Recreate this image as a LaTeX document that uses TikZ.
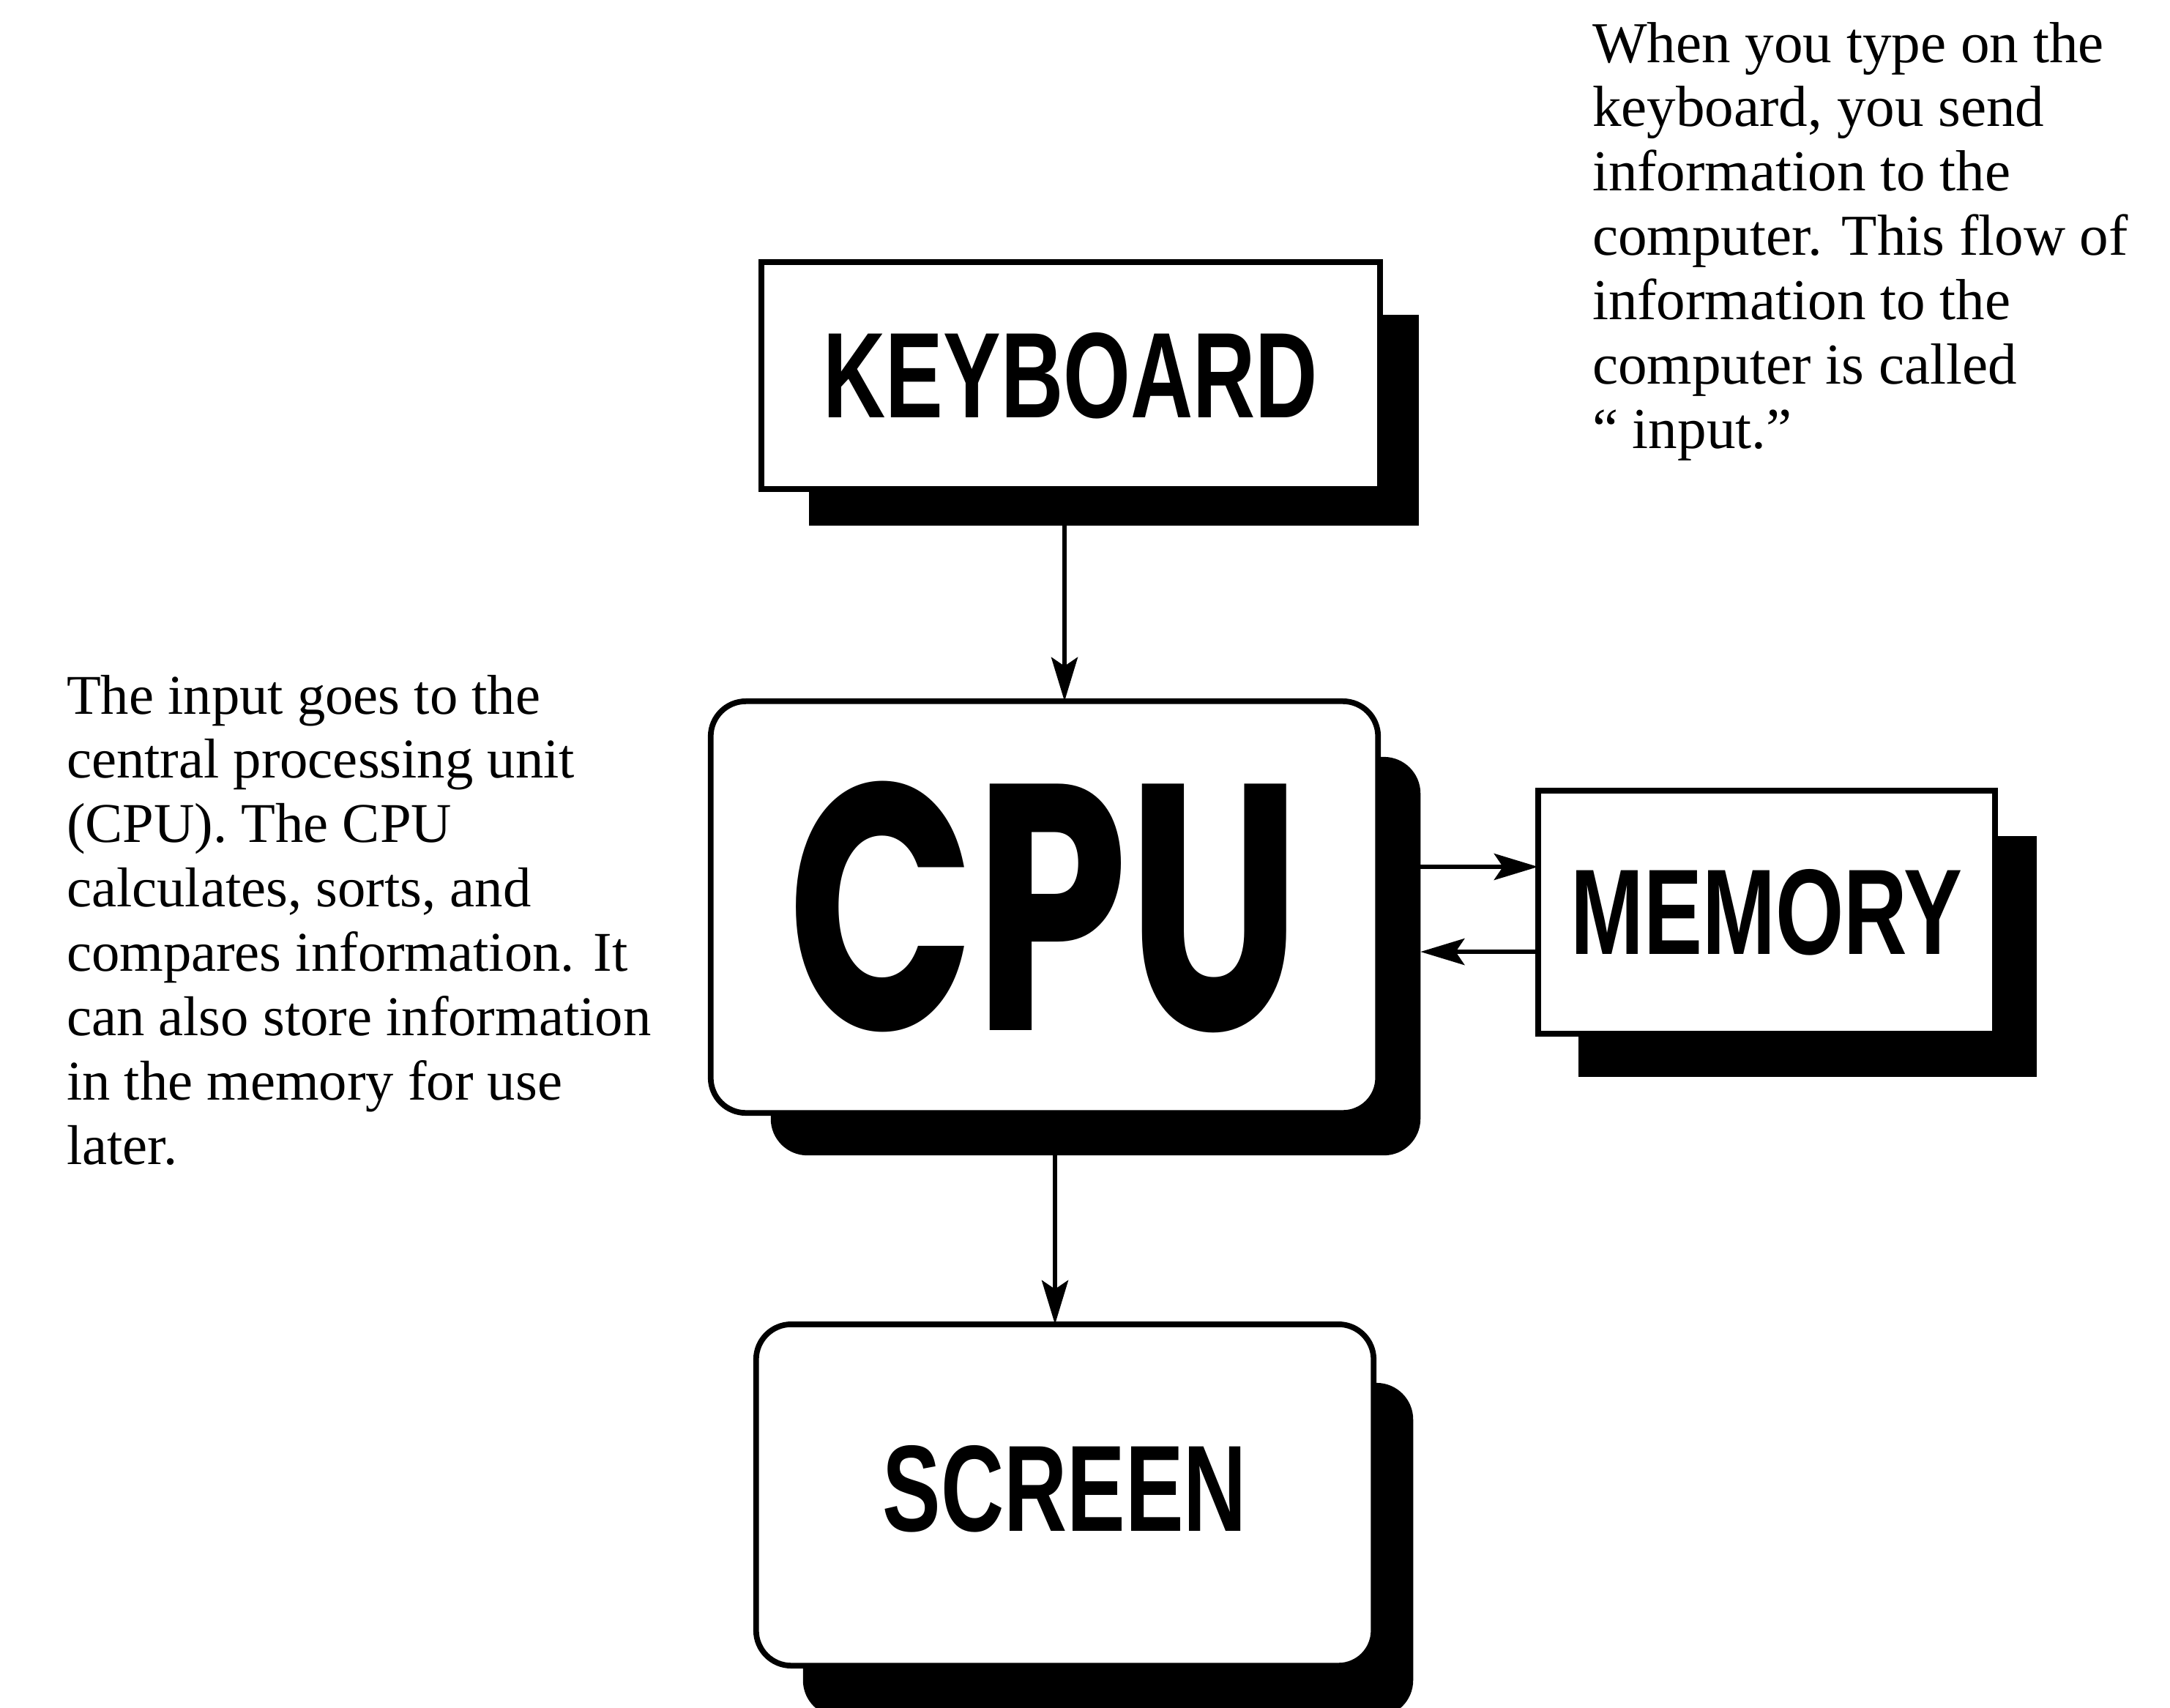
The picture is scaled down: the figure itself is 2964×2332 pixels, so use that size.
\documentclass[tikz,border=0pt]{standalone}
\usepackage{fontspec}
\usepackage{graphicx}
\setmainfont{Liberation Serif}
\newfontfamily\labelfont{Liberation Sans}
\newfontfamily\cpufont{Poppins}
\usetikzlibrary{arrows.meta}
\pgfdeclarelayer{background}
\pgfsetlayers{background,main}

\tikzset{
  panel/.style={draw=black, line width=2.2pt, fill=white, inner sep=0pt, outer sep=0pt},
  roundpanel/.style={panel, rounded corners=0.48cm},
  shade/.style={fill=black, draw=none, inner sep=0pt, outer sep=0pt},
  roundshade/.style={shade, rounded corners=0.5cm},
  flow/.style={line width=1.7pt, -{Stealth[length=0.6cm,width=0.36cm,inset=0.12cm]}},
  note/.style={anchor=base west, inner sep=0pt, outer sep=0pt},
}

\begin{document}
\begin{tikzpicture}[x=0.01cm, y=-0.01cm]
  \useasboundingbox (0,0) rectangle (2964,2332);

  % blocks of the machine
  \node[panel, minimum width=8.45cm, minimum height=3.10cm] (kb) at (1462.5,513)
    {\resizebox{6.75cm}{1.16cm}{\labelfont\bfseries KEYBOARD}};
  \node[roundpanel, minimum width=9.11cm, minimum height=5.62cm] (cpu) at (1426.5,1239)
    {\resizebox{7.0cm}{3.4cm}{\cpufont\bfseries CPU}};
  \node[panel, minimum width=6.24cm, minimum height=3.32cm] (mem) at (2413,1246)
    {\resizebox{5.35cm}{1.16cm}{\labelfont\bfseries MEMORY}};
  \node[roundpanel, minimum width=8.43cm, minimum height=4.66cm] (scr) at (1454.5,2042)
    {\raisebox{0.09cm}[1.17cm][0pt]{\resizebox{4.97cm}{1.17cm}{\labelfont\bfseries SCREEN}}};

  % solid drop shadows behind the blocks
  \begin{pgfonlayer}{background}
    \node[shade, minimum width=8.33cm, minimum height=2.88cm] (kbsh) at (1521.5,574) {};
    \node[roundshade, minimum width=8.87cm, minimum height=5.44cm] (cpush) at (1496.5,1306) {};
    \node[shade, minimum width=6.26cm, minimum height=3.29cm] (memsh) at (2469,1306.5) {};
    \node[roundshade, minimum width=8.33cm, minimum height=4.56cm] (scrsh) at (1513.5,2117) {};
  \end{pgfonlayer}

  % flow of information
  \coordinate (kbout) at ([xshift=-0.085cm]kb.south);
  \coordinate (cpuout) at ([xshift=0.145cm]cpu.south);
  \coordinate (tomem) at ([yshift=0.62cm]mem.west);
  \coordinate (frommem) at ([yshift=-0.54cm]mem.west);
  \draw[flow] (kbout |- kbsh.south) -- (kbout |- cpu.north);
  \draw[flow] (cpuout |- cpush.south) -- (cpuout |- scr.north);
  \draw[flow] (cpush.east |- tomem) -- (tomem);
  \draw[flow] (frommem) -- (cpush.east |- frommem);

  % explanations
  \node[note, font=\fontsize{22.5pt}{25pt}\selectfont] (inputnote) at (2175,85) {\vtop{%
    \hbox{When you type on the}
    \hbox{keyboard, you send}
    \hbox{information to the}
    \hbox{computer. This flow of}
    \hbox{information to the}
    \hbox{computer is called}
    \hbox{“ input.”}}};
  \node[note, font=\fontsize{21.8pt}{25pt}\selectfont] (cpunote) at (91,975) {\vtop{%
    \hbox{The input goes to the}
    \hbox{central processing unit}
    \hbox{(CPU). The CPU}
    \hbox{calculates, sorts, and}
    \hbox{compares information. It}
    \hbox{can also store information}
    \hbox{in the memory for use}
    \hbox{later.}}};
\end{tikzpicture}
\end{document}
